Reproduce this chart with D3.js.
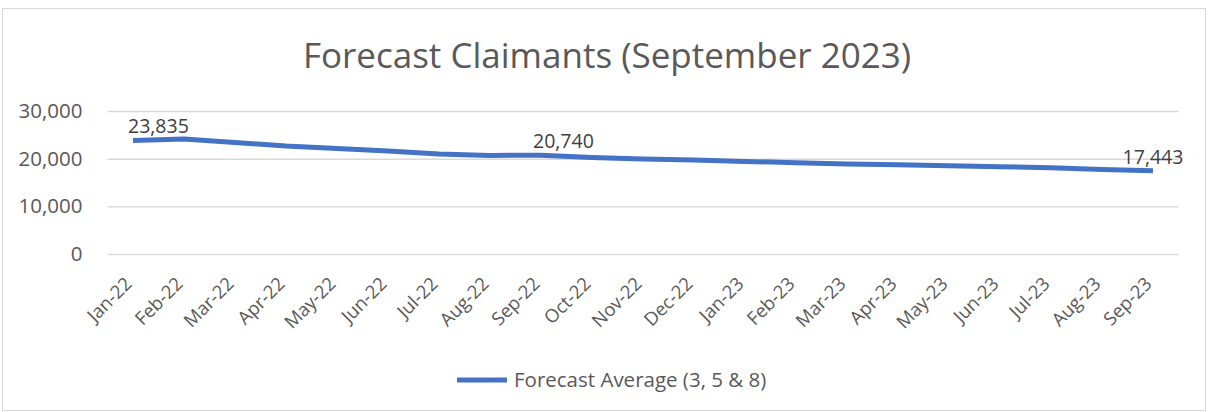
<!DOCTYPE html>
<html>
<head>
<meta charset="utf-8">
<script src="https://cdn.jsdelivr.net/npm/d3@7"></script>
<style>
  body { margin: 0; background: #fff; }
  text { font-family: "Open Sans", "Noto Sans", sans-serif; }
</style>
</head>
<body>
<svg></svg>
<script>
let svgWidth = 1208;
let svgHeight = 412;

let months = ["Jan-22", "Feb-22", "Mar-22", "Apr-22", "May-22", "Jun-22", "Jul-22", "Aug-22", "Sep-22",
    "Oct-22", "Nov-22", "Dec-22", "Jan-23", "Feb-23", "Mar-23", "Apr-23", "May-23", "Jun-23",
    "Jul-23", "Aug-23", "Sep-23"];
let forecastAvg = [23835, 24150, 23400, 22640, 22150, 21600, 20960, 20690, 20740,
    20270, 19920, 19700, 19430, 19140, 18870, 18720, 18510, 18300, 18090, 17750, 17443];
let labelled = ["Jan-22", "Sep-22", "Sep-23"];
let yTicks = [0, 10000, 20000, 30000];
let seriesName = "Forecast Average (3, 5 & 8)";
let title = "Forecast Claimants (September 2023)";

let margin = {left: 107.5, right: 29.5, top: 111, bottom: 158};

let svg = d3.select("svg").attr("width", svgWidth).attr("height", svgHeight);

// outer chart border
svg.append("rect")
    .attr("x", 2.5).attr("y", 8.5)
    .attr("width", svgWidth - 5).attr("height", svgHeight - 10)
    .attr("fill", "#fff").attr("stroke", "#d9d9d9").attr("stroke-width", 1);

svg.append("text")
    .attr("x", 607).attr("y", 68)
    .attr("text-anchor", "middle")
    .attr("font-size", 35)
    .attr("fill", "#595959")
    .text(title);

let xScale = d3.scaleBand().domain(months)
    .range([margin.left, svgWidth - margin.right]);
let yScale = d3.scaleLinear().domain([0, 30000])
    .range([svgHeight - margin.bottom, margin.top]);

let y_axis = d3.axisLeft(yScale).tickValues(yTicks)
    .tickFormat(d3.format(","))
    .tickSizeInner(-(svgWidth - margin.left - margin.right))
    .tickSizeOuter(0)
    .tickPadding(25);

let yG = svg.append("g").attr("transform", "translate(" + margin.left + ",0)").call(y_axis);
yG.select(".domain").remove();
yG.selectAll("line").attr("stroke", "#d9d9d9").attr("stroke-width", 1.5);
yG.selectAll("text").attr("font-size", 20.5).attr("fill", "#595959")
    .attr("font-family", "'Open Sans', sans-serif");

let x_axis = d3.axisBottom(xScale).tickSize(0).tickPadding(0);
let xG = svg.append("g").attr("transform", "translate(0," + (svgHeight - margin.bottom) + ")").call(x_axis);
xG.select(".domain").remove();
xG.selectAll("text")
    .attr("font-size", 18.5).attr("fill", "#595959")
    .attr("font-family", "'Open Sans', sans-serif")
    .attr("text-anchor", "end")
    .attr("dy", 0)
    .attr("transform", "translate(0,31) rotate(-45)");

let lineFunction = d3.line()
    .x(function(d, i) { return xScale(months[i]) + xScale.bandwidth() / 2; })
    .y(function(d) { return yScale(d); })
    .curve(d3.curveLinear);

svg.append("path")
    .attr("d", lineFunction(forecastAvg))
    .attr("fill", "none")
    .attr("stroke", "#4472c4")
    .attr("stroke-width", 5)
    .attr("stroke-linejoin", "round");

// Excel places the first two labels starting just left of the point, the last one centred
let labelAnchor = ["start", "start", "middle"];
let labelShift = [-5, -8, 0];
let labels = svg.append("g");
let k = 0;
for (let i = 0; i < months.length; i++) {
    if (labelled.indexOf(months[i]) < 0) continue;
    labels.append("text")
        .attr("x", xScale(months[i]) + xScale.bandwidth() / 2 + labelShift[k])
        .attr("y", yScale(forecastAvg[i]) - 7)
        .attr("text-anchor", labelAnchor[k])
        .attr("font-size", 19.5)
        .attr("fill", "#404040")
        .text(d3.format(",")(forecastAvg[i]));
    k++;
}

// legend
let legend = svg.append("g");
legend.append("line")
    .attr("x1", 457).attr("x2", 507)
    .attr("y1", 380).attr("y2", 380)
    .attr("stroke", "#4472c4").attr("stroke-width", 5);
legend.append("text")
    .attr("x", 514).attr("y", 387)
    .attr("font-size", 20.5).attr("fill", "#595959")
    .text(seriesName);
</script>
</body>
</html>
